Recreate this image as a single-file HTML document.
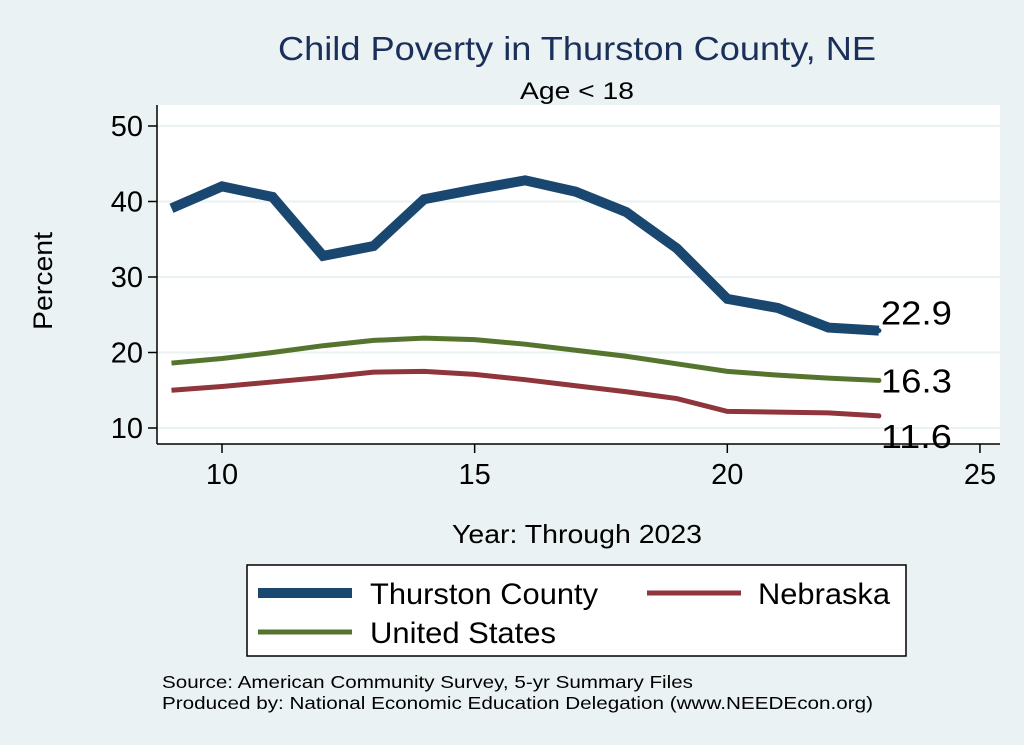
<!DOCTYPE html>
<html><head><meta charset="utf-8"><style>
body{margin:0;background:#eaf2f3;}
svg{display:block;font-family:"Liberation Sans",sans-serif;}
</style></head><body>
<svg id="c" width="1024" height="745">
<rect x="0" y="0" width="1024" height="745" fill="#eaf2f3"/>
<rect x="157" y="105" width="843" height="339" fill="#fff"/>
<text x="278" y="60" font-size="33" fill="#1a2f5a" textLength="598" lengthAdjust="spacingAndGlyphs">Child Poverty in Thurston County, NE</text>
<text x="520" y="99" font-size="24" textLength="114" lengthAdjust="spacingAndGlyphs">Age &lt; 18</text>
<text x="52" y="281" font-size="27" text-anchor="middle" textLength="98" lengthAdjust="spacingAndGlyphs" transform="rotate(-90 52 281)">Percent</text>
<text x="452" y="543" font-size="26" textLength="250" lengthAdjust="spacingAndGlyphs">Year: Through 2023</text>
<g id="grid"></g><g id="axes"></g><g id="series"></g>
<g>
<rect x="247" y="565" width="659" height="91" fill="#fff" stroke="#000" stroke-width="1.5"/>
<line x1="258" y1="593" x2="352" y2="593" stroke="#1a476f" stroke-width="10"/>
<text x="370" y="604" font-size="30" textLength="228" lengthAdjust="spacingAndGlyphs">Thurston County</text>
<line x1="647" y1="593" x2="741" y2="593" stroke="#90353b" stroke-width="5"/>
<text x="758" y="604" font-size="30" textLength="132" lengthAdjust="spacingAndGlyphs">Nebraska</text>
<line x1="258" y1="632" x2="352" y2="632" stroke="#55752f" stroke-width="5"/>
<text x="370" y="643" font-size="30" textLength="186" lengthAdjust="spacingAndGlyphs">United States</text>
</g>
<text x="162" y="688" font-size="17.5" textLength="531" lengthAdjust="spacingAndGlyphs">Source: American Community Survey, 5-yr Summary Files</text>
<text x="162" y="709" font-size="17.5" textLength="711" lengthAdjust="spacingAndGlyphs">Produced by: National Economic Education Delegation (www.NEEDEcon.org)</text>
</svg>
<script>
const years=[9,10,11,12,13,14,15,16,17,18,19,20,21,22,23];
const thurston=[39.1,42.0,40.6,32.8,34.1,40.3,41.6,42.8,41.3,38.6,33.8,27.1,25.9,23.3,22.9];
const unitedStates=[18.6,19.2,20.0,20.9,21.6,21.9,21.7,21.1,20.3,19.5,18.5,17.5,17.0,16.6,16.3];
const nebraska=[15.0,15.5,16.1,16.7,17.4,17.5,17.1,16.4,15.6,14.8,13.9,12.2,12.1,12.0,11.6];
const xTicks=[10,15,20,25];
const yTicks=[10,20,30,40,50];
const NS="http://www.w3.org/2000/svg";
const X=v=>222+(v-10)*50.53;
const Y=v=>428-(v-10)*7.55;
function mk(t,a,p){const e=document.createElementNS(NS,t);for(const k in a)e.setAttribute(k,a[k]);p.appendChild(e);return e;}
const grid=document.getElementById('grid'),axes=document.getElementById('axes'),ser=document.getElementById('series');
mk('line',{x1:157,y1:105,x2:157,y2:444,stroke:'#000','stroke-width':1.5},axes);
mk('line',{x1:157,y1:444,x2:1000,y2:444,stroke:'#000','stroke-width':1.5},axes);
yTicks.forEach(v=>{
 const g=mk('line',{x1:157,y1:Y(v),x2:1000,y2:Y(v),stroke:'#eaf2f3','stroke-width':2},grid);
 
 
 mk('line',{x1:148,y1:Y(v),x2:157,y2:Y(v),stroke:'#000','stroke-width':1.5},axes);
 const t=mk('text',{x:143,y:Y(v)+10,'font-size':29,'text-anchor':'end'},axes);t.textContent=v;
 
 
});
xTicks.forEach(v=>{
 mk('line',{x1:X(v),y1:444,x2:X(v),y2:453,stroke:'#000','stroke-width':1.5},axes);
 const t=mk('text',{x:X(v),y:484,'font-size':29,'text-anchor':'middle'},axes);t.textContent=v;
 
 
});
function line(vals,col,w,name){
 const p=mk('polyline',{points:years.map((y,i)=>X(y)+','+Y(vals[i])).join(' '),fill:'none',stroke:col,'stroke-width':w,'stroke-linejoin':'miter'},ser);
 
 
 const n=vals.length-1;
 const d=mk('circle',{cx:X(years[n]),cy:Y(vals[n]),r:2.5,fill:col},ser);
 
 
 return n;
}
let n=line(thurston,'#1a476f',10,'thurston-line');
line(unitedStates,'#55752f',5,'us-line');
line(nebraska,'#90353b',5,'nebraska-line');
[[thurston,-6,'thurston-label'],[unitedStates,12,'us-label'],[nebraska,32,'nebraska-label']].forEach(([v,dy,nm])=>{
 const t=mk('text',{x:X(years[n])+2,y:Y(v[n])+dy,'font-size':33,textLength:71,lengthAdjust:'spacingAndGlyphs'},ser);t.textContent=v[n].toFixed(1);
 
 
});
</script>
</body></html>
